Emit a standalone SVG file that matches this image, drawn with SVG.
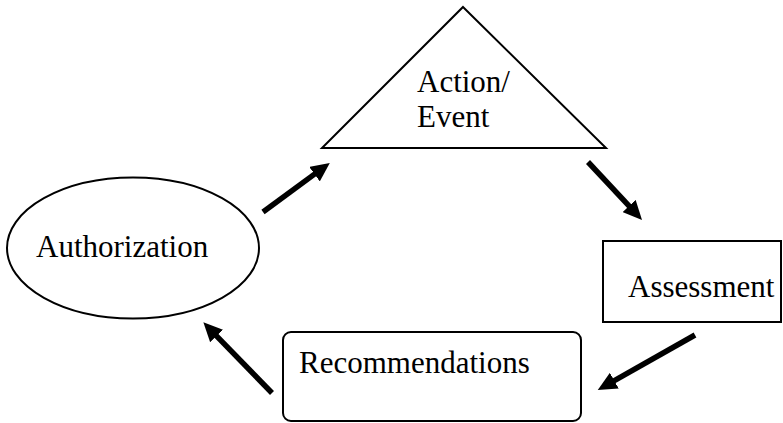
<svg xmlns="http://www.w3.org/2000/svg" width="783" height="423" viewBox="0 0 783 423">
<style>
.shape{fill:#fff;stroke:#000;stroke-width:2}
.lbl{font-family:"Liberation Serif","Times New Roman",serif;font-size:31px;fill:#000}
.conn{stroke:#000;stroke-width:5.5;fill:none;marker-end:url(#ah)}
</style>
<defs>
<marker id="ah" markerUnits="userSpaceOnUse" markerWidth="20" markerHeight="18" viewBox="0 0 20 18" refX="3" refY="9" orient="auto">
<path d="M0,0 L19,9 L0,18 Z" fill="#000"/>
</marker>
</defs>
<rect width="783" height="423" fill="#fff"/>
<g id="action-event">
<polygon class="shape" points="463,7 606,148 322,148"/>
<text class="lbl" x="417" y="92">Action/</text>
<text class="lbl" x="417" y="127">Event</text>
</g>
<g id="authorization">
<ellipse class="shape" cx="133" cy="248" rx="126" ry="70.5"/>
<text class="lbl" x="36" y="257">Authorization</text>
</g>
<g id="assessment">
<rect class="shape" x="603" y="241" width="178" height="81"/>
<text class="lbl" x="628" y="297">Assessment</text>
</g>
<g id="recommendations">
<rect class="shape" x="283" y="332" width="298" height="89" rx="8" ry="8"/>
<text class="lbl" x="299" y="373">Recommendations</text>
</g>
<g id="connectors">
<line class="conn" x1="263" y1="212" x2="316.9" y2="172.4"/>
<line class="conn" x1="588" y1="162" x2="631.1" y2="208.2"/>
<line class="conn" x1="695" y1="335" x2="611.7" y2="382.1"/>
<line class="conn" x1="272" y1="393" x2="214.5" y2="333.8"/>
</g>
</svg>
